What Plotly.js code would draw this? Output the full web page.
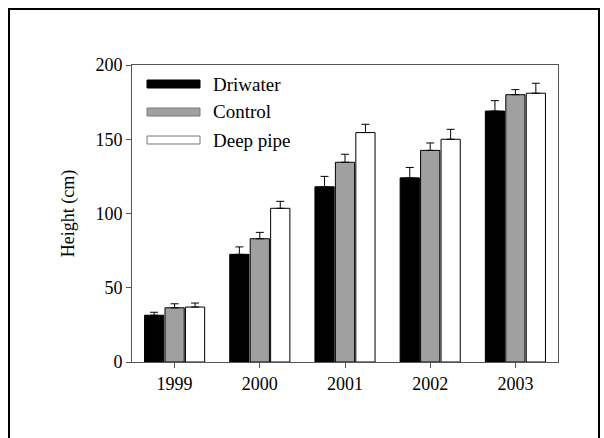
<!DOCTYPE html>
<html>
<head>
<script src="https://cdn.plot.ly/plotly-3.0.1.min.js"></script>
<style>
body { margin: 0; background: #fff; }
#frame { position: absolute; left: 8px; top: 8px; width: 588px; height: 440px; border: 2px solid #000; border-bottom: none; }
#plot { position: absolute; left: 0; top: 0; width: 604px; height: 438px; }
</style>
</head>
<body>
<div id="frame"></div>
<div id="plot"></div>
<script>
const years = ["1999", "2000", "2001", "2002", "2003"];
const driwater = [31.5, 72.5, 118, 124, 169];
const driwaterErr = [2, 5, 7, 7, 7];
const control = [36.5, 83, 134.5, 142.5, 180];
const controlErr = [2.7, 4.3, 5.4, 5, 3.4];
const deepPipe = [37, 103.5, 154.5, 150, 181];
const deepPipeErr = [2.7, 4.7, 5.6, 6.7, 6.7];
const names = ["Driwater", "Control", "Deep pipe"];
const fills = ["#000000", "#a0a0a0", "#ffffff"];

function series(y, err, i) {
  return {
    type: "bar", x: years, y: y, name: names[i],
    marker: { color: fills[i], line: { color: "#000", width: 1 } },
    error_y: { type: "data", array: err, symmetric: false, arrayminus: err.map(() => 0), color: "#000", thickness: 1, width: 4 },
    showlegend: false
  };
}

const data = [
  series(driwater, driwaterErr, 0),
  series(control, controlErr, 1),
  series(deepPipe, deepPipeErr, 2)
];

// hand-drawn legend: wide swatches like the original
const shapes = [];
const annotations = [];
names.forEach((n, i) => {
  const yc = 84 + i * 28;
  shapes.push({ type: "rect", xref: "paper", yref: "paper",
    x0: (147 - 132) / 426, x1: (200 - 132) / 426,
    y0: (362 - yc - 4) / 297, y1: (362 - yc + 4) / 297,
    fillcolor: fills[i], line: { color: i === 0 ? "#000" : "#777", width: 1 } });
  annotations.push({ xref: "paper", yref: "paper", x: (211 - 132) / 426, y: (362 - yc) / 297,
    xanchor: "left", yanchor: "middle", text: n, showarrow: false,
    font: { family: "Liberation Serif, serif", size: 19, color: "#000" } });
});

const layout = {
  width: 604, height: 438,
  margin: { l: 132, r: 46, t: 65, b: 76 },
  paper_bgcolor: "rgba(0,0,0,0)", plot_bgcolor: "#fff",
  font: { family: "Liberation Serif, serif", size: 18, color: "#000" },
  barmode: "group", bargap: 0.28, bargroupgap: 0.06,
  xaxis: { type: "category", showline: true, mirror: true, linecolor: "#555", linewidth: 1,
    ticks: "outside", ticklen: 5, tickcolor: "#555", showgrid: false },
  yaxis: { range: [0, 200], dtick: 50, showline: true, mirror: true, linecolor: "#555", linewidth: 1,
    ticks: "outside", ticklen: 5, tickcolor: "#555", showgrid: false, zeroline: false,
    title: { text: "Height (cm)", font: { size: 18 }, standoff: 16 } },
  shapes: shapes,
  annotations: annotations
};

Plotly.newPlot("plot", data, layout, { displayModeBar: false, staticPlot: true });
</script>
</body>
</html>
